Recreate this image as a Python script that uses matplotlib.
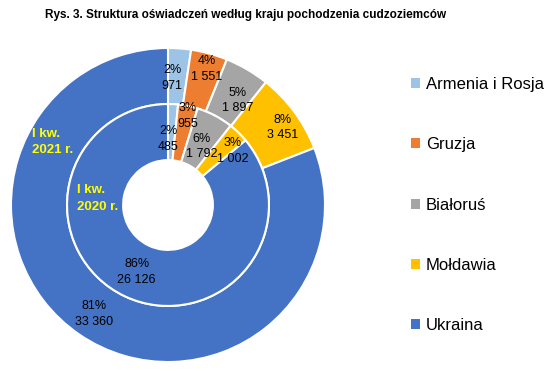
import numpy as np
import matplotlib.pyplot as plt
from matplotlib.patches import Patch

plt.rcParams['font.family'] = ['Liberation Sans', 'DejaVu Sans']

# data
countries = ['Armenia i Rosja', 'Gruzja', 'Białoruś', 'Mołdawia', 'Ukraina']
q1_2021 = [971, 1551, 1897, 3451, 33360]
q1_2020 = [485, 955, 1792, 1002, 26126]
colors = ['#9DC3E6', '#ED7D31', '#A5A5A5', '#FFC000', '#4472C4']
title = 'Rys. 3. Struktura oświadczeń według kraju pochodzenia cudzoziemców'

# label placement (radius in axes units, angular nudge in degrees clockwise)
outer_r = [0.81, 0.90, 0.80, 0.88, 0.84]
outer_dang = [-2.4, 0.6, 3.4, 2.3, 0.0]
inner_r = [0.42, 0.58, 0.43, 0.535, 0.47]
inner_dang = [-2.9, 1.2, 2.3, 5.8, 0.0]

W, H = 559, 371
fig = plt.figure(figsize=(W/100, H/100), dpi=100)
R = 157  # outer radius in px
cx, cy = 168, 205
ax = fig.add_axes([(cx-R)/W, (H-cy-R)/H, 2*R/W, 2*R/H])

ring_w = 0.357
wp = dict(width=ring_w, edgecolor='white', linewidth=1.5)
w_out, _ = ax.pie(q1_2021, radius=1.0, colors=colors, startangle=90,
                  counterclock=False, wedgeprops=wp)
w_in, _ = ax.pie(q1_2020, radius=1.0-ring_w, colors=colors, startangle=90,
                 counterclock=False, wedgeprops=wp)
ax.set_xlim(-1, 1)
ax.set_ylim(-1, 1)
ax.set_aspect('equal')
ax.axis('off')


def fmt(v):
    return f'{v:,}'.replace(',', ' ')


def add_labels(wedges, vals, radii, dangs):
    tot = sum(vals)
    for w, v, r, d in zip(wedges, vals, radii, dangs):
        th = np.deg2rad((w.theta1 + w.theta2) / 2 - d)
        ax.text(r*np.cos(th), r*np.sin(th), f'{round(v/tot*100)}%\n{fmt(v)}',
                ha='center', va='center', fontsize=9, linespacing=1.4,
                color='black')


add_labels(w_out, q1_2021, outer_r, outer_dang)
add_labels(w_in, q1_2020, inner_r, inner_dang)

# ring names
fig.text(32/W, 1-142/H, 'I kw.\n2021 r.', color='#FFFF00', fontsize=9.5,
         fontweight='bold', ha='left', va='center', linespacing=1.5)
fig.text(77/W, 1-198.5/H, 'I kw.\n2020 r.', color='#FFFF00', fontsize=9.5,
         fontweight='bold', ha='left', va='center', linespacing=1.5)

fig.text(45/W, 1-15/H, title, fontsize=8.5, fontweight='bold',
         family=['Liberation Sans Narrow', 'Liberation Sans'],
         ha='left', va='center')

handles = [Patch(facecolor=c, edgecolor='none') for c in colors]
fig.legend(handles, countries, loc='center left',
           bbox_to_anchor=(411/W, 1-205/H), frameon=False, fontsize=12,
           handlelength=0.55, handleheight=0.55, handletextpad=0.35,
           labelspacing=2.72, borderpad=0, borderaxespad=0)

fig.savefig('out.png', dpi=100)
